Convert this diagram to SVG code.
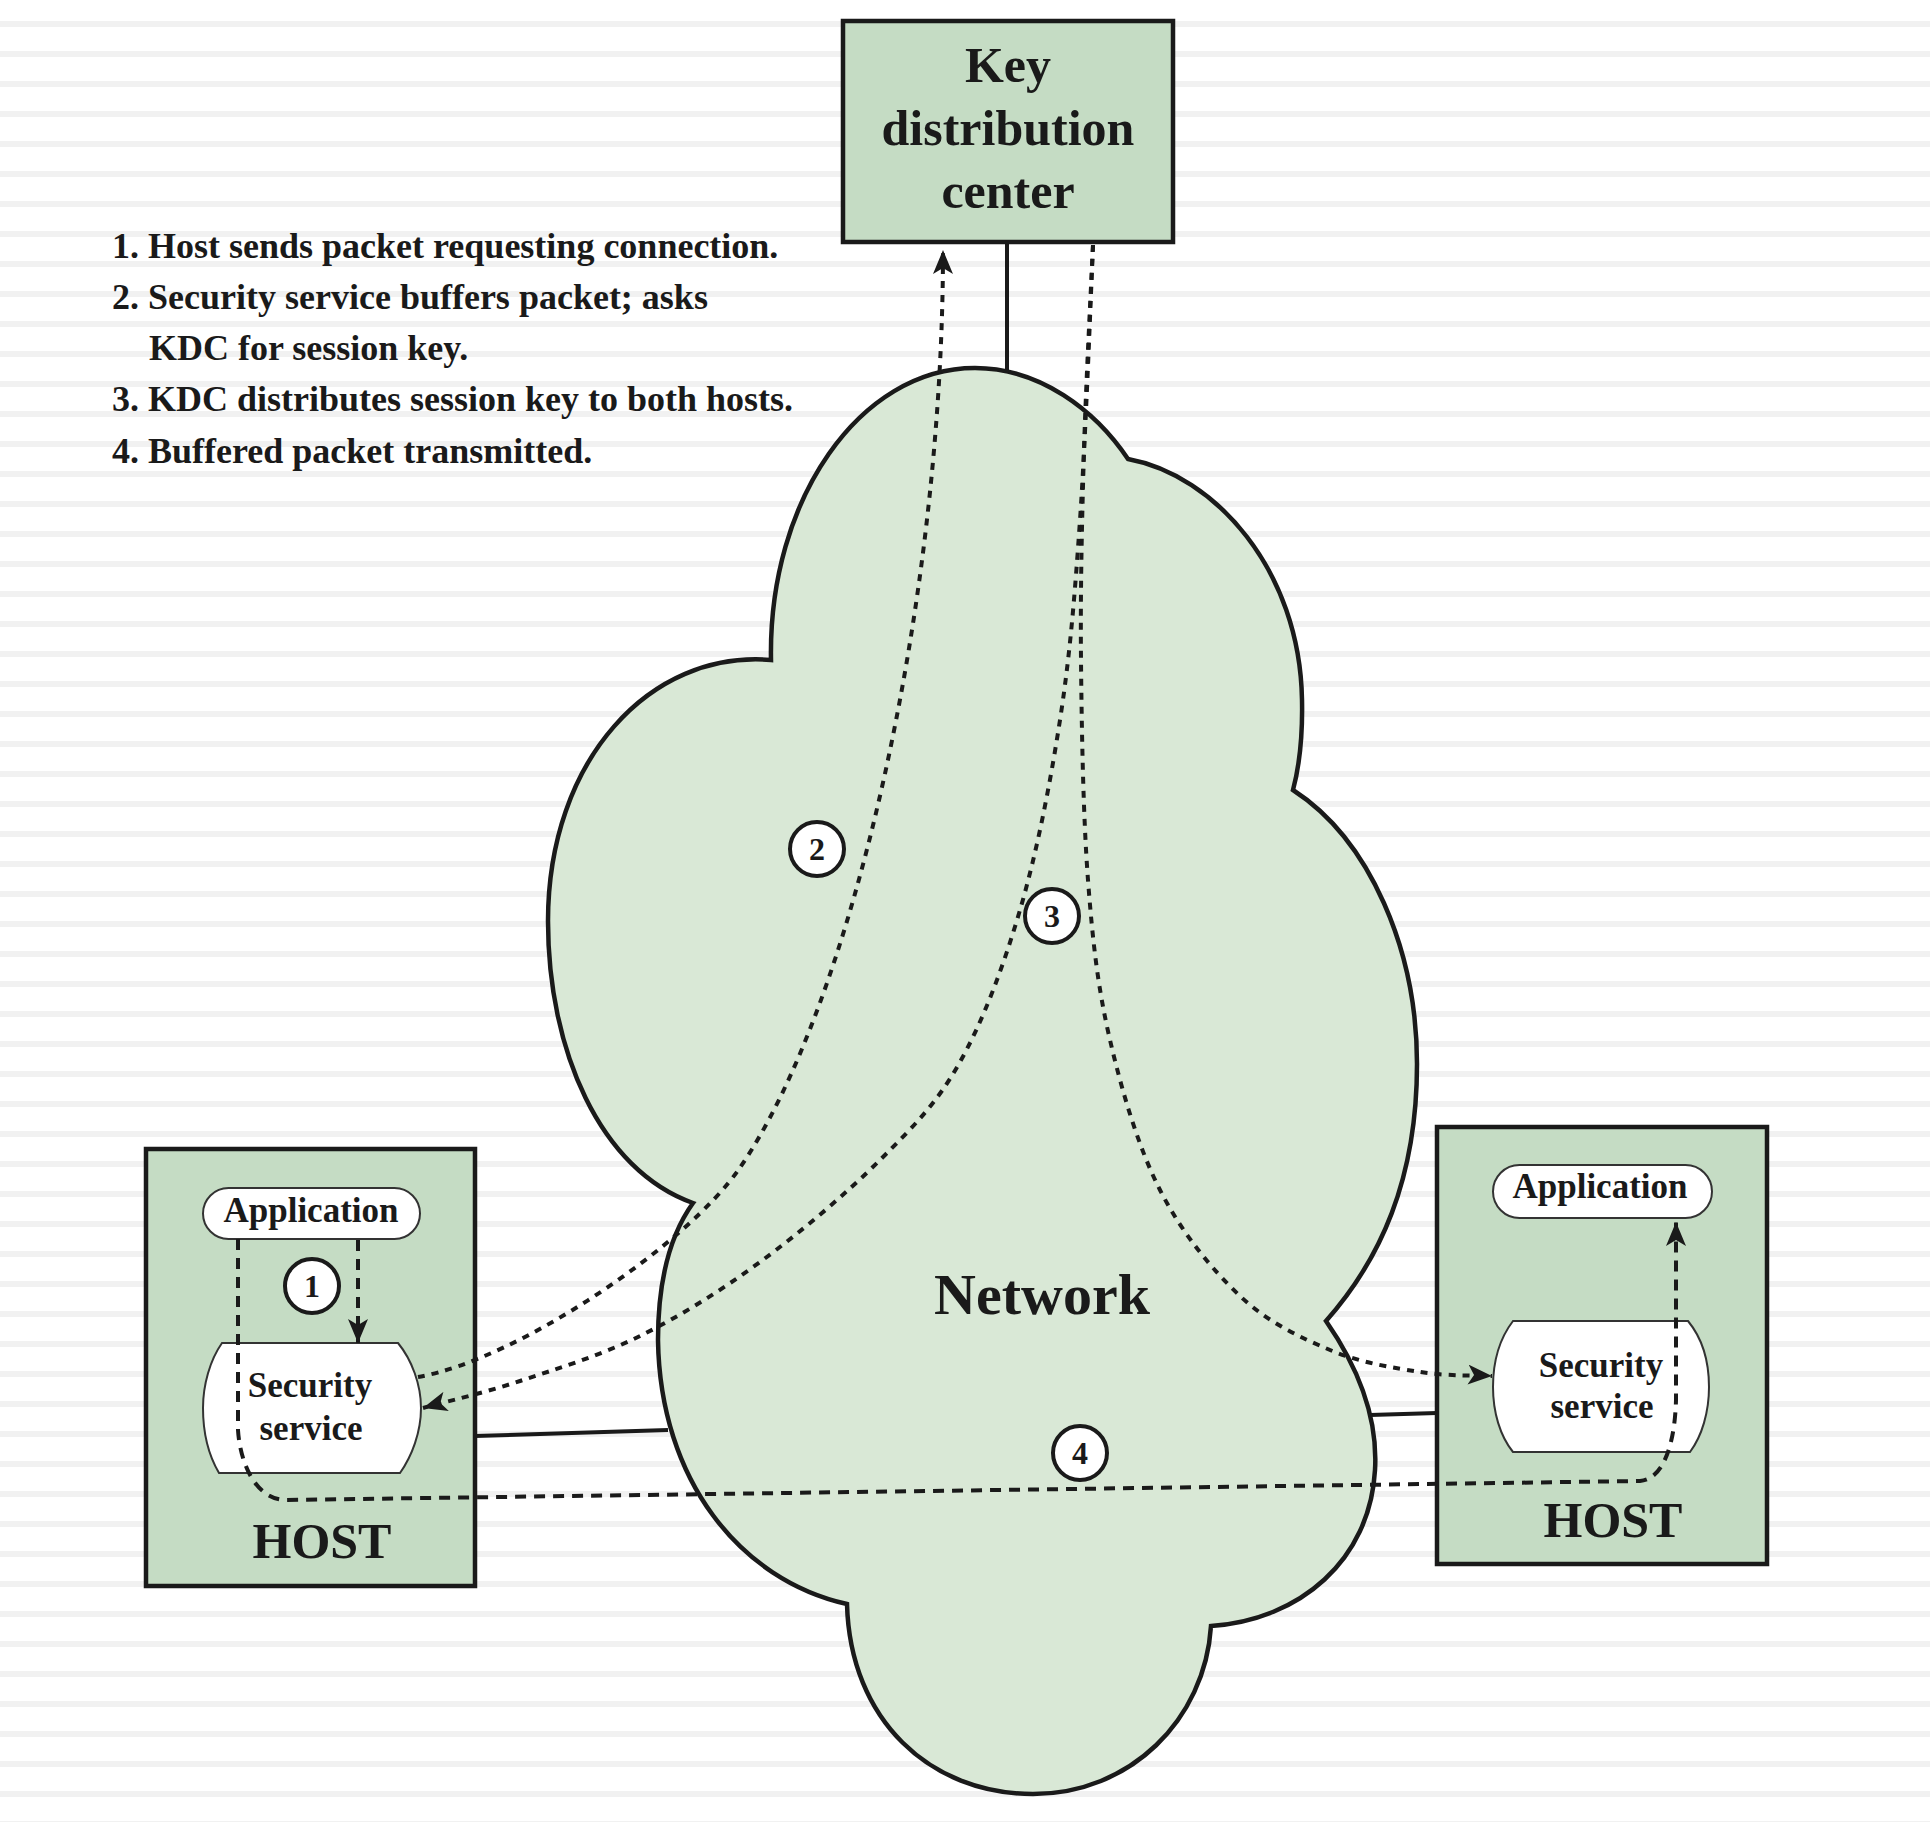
<svg xmlns="http://www.w3.org/2000/svg" width="1930" height="1822" viewBox="0 0 1930 1822">
<defs>
<pattern id="stripes" x="0" y="0" width="40" height="30" patternUnits="userSpaceOnUse">
<rect x="0" y="21" width="40" height="6" fill="#f1f1f1"/>
</pattern>
<marker id="arr" viewBox="0 0 24 20" refX="24" refY="10" markerWidth="24" markerHeight="20" markerUnits="userSpaceOnUse" orient="auto">
<path d="M0,0 L24,10 L0,20 L6,10 Z" fill="#1a1a1a"/>
</marker>
<style>
.box{fill:#c5dcc4;stroke:#1a1a1a;stroke-width:4.5}
.cloud{fill:#d9e8d6;stroke:#1a1a1a;stroke-width:4.5}
.inner{fill:#ffffff;stroke:#333333;stroke-width:2}
.solid{fill:none;stroke:#1a1a1a;stroke-width:4}
.dot{fill:none;stroke:#1a1a1a;stroke-width:4;stroke-dasharray:7 7}
.dash{fill:none;stroke:#1a1a1a;stroke-width:4;stroke-dasharray:11 8}
.num{fill:#ffffff;stroke:#1a1a1a;stroke-width:4}
text{font-family:"Liberation Serif","Times New Roman",serif;font-weight:bold;fill:#1a1a1a}
.big{font-size:50px;text-anchor:middle}
.lbl{font-size:35px;text-anchor:middle}
.note{font-size:36px}
.n{font-size:32px;text-anchor:middle}
</style>
</defs>
<rect x="0" y="0" width="1930" height="1822" fill="#ffffff"/>
<rect x="0" y="0" width="1930" height="1822" fill="url(#stripes)"/>

<g id="notes">
<text class="note" x="112" y="258">1. Host sends packet requesting connection.</text>
<text class="note" x="112" y="309">2. Security service buffers packet; asks</text>
<text class="note" x="149" y="360">KDC for session key.</text>
<text class="note" x="112" y="411">3. KDC distributes session key to both hosts.</text>
<text class="note" x="112" y="463">4. Buffered packet transmitted.</text>
</g>

<g id="links">
<line class="solid" x1="1007" y1="242" x2="1007" y2="372"/>
<line class="solid" x1="475" y1="1436" x2="668" y2="1430"/>
<line class="solid" x1="1370" y1="1415" x2="1437" y2="1413"/>
</g>

<g id="network">
<path class="cloud" d="M771,660 C768,500 860,368 975,368 C1040,368 1095,410 1128,459 C1215,475 1300,570 1302,700 C1303,750 1297,775 1293,790 C1370,840 1417,950 1417,1064 C1417,1180 1380,1260 1326,1321 C1360,1370 1378,1420 1375,1470 C1370,1560 1300,1620 1211,1626 C1205,1720 1130,1794 1033,1794 C930,1794 850,1720 847,1604 C740,1580 660,1480 658,1340 C658,1280 670,1235 693,1203 C600,1170 548,1050 548,921 C548,760 650,650 771,660 Z"/>
<text x="1042" y="1314" style="font-size:58px;text-anchor:middle">Network</text>
</g>

<g id="kdc">
<rect class="box" x="843" y="21" width="330" height="221"/>
<text class="big" x="1008" y="82">Key</text>
<text class="big" x="1008" y="145">distribution</text>
<text class="big" x="1008" y="208">center</text>
</g>

<g id="host-left">
<rect class="box" x="146" y="1149" width="329" height="437"/>
<text class="big" x="322" y="1558">HOST</text>
</g>
<g id="app-left">
<rect class="inner" x="203" y="1188" width="217" height="51" rx="25.5"/>
<text class="lbl" x="311" y="1222">Application</text>
</g>
<g id="sec-left">
<path class="inner" d="M222,1343 L398,1343 C412,1360 421,1385 421,1408 C421,1432 412,1456 400,1473 L219,1473 C209,1456 203,1432 203,1408 C203,1385 210,1360 222,1343 Z"/>
<text class="lbl" x="310" y="1397">Security</text>
<text class="lbl" x="311" y="1440">service</text>
</g>

<g id="host-right">
<rect class="box" x="1437" y="1127" width="330" height="437"/>
<text class="big" x="1613" y="1537">HOST</text>
</g>
<g id="app-right">
<rect class="inner" x="1493" y="1165" width="219" height="53" rx="26.5"/>
<text class="lbl" x="1600" y="1198">Application</text>
</g>
<g id="sec-right">
<path class="inner" d="M1513,1321 L1688,1321 C1702,1338 1709,1362 1709,1387 C1709,1412 1702,1436 1690,1452 L1513,1452 C1500,1436 1493,1412 1493,1387 C1493,1362 1500,1338 1513,1321 Z"/>
<text class="lbl" x="1601" y="1377">Security</text>
<text class="lbl" x="1602" y="1418">service</text>
</g>

<g id="connectors">
<path class="dash" d="M358,1240 L358,1343" marker-end="url(#arr)"/>
<path class="dot" d="M418,1377 C520,1359 688,1243 739,1169 C853,1005 943,600 943,250" marker-end="url(#arr)"/>
<path class="dot" d="M1093,245 C1091,291 1085.5,441 1080,520 C1074.5,599 1070,655 1060,720 C1050,785 1036.7,853 1020,910 C1003.3,967 983.3,1020.3 960,1062 C936.7,1103.7 913.3,1126.7 880,1160 C846.7,1193.3 800,1232.7 760,1262 C720,1291.3 680,1316.2 640,1336 C600,1355.8 555,1369.3 520,1381 C485,1392.7 445,1401.8 423,1408" marker-end="url(#arr)"/>
<path class="dot" d="M1093,245 C1091.5,279.2 1086,380.8 1084,450 C1082,519.2 1080.3,588.3 1081,660 C1081.7,731.7 1083.2,816.7 1088,880 C1092.8,943.3 1098,988.3 1110,1040 C1122,1091.7 1138.3,1147.3 1160,1190 C1181.7,1232.7 1211.7,1269.3 1240,1296 C1268.3,1322.7 1300,1337.3 1330,1350 C1360,1362.7 1393,1367.7 1420,1372 C1447,1376.3 1480,1375.3 1492,1376" marker-end="url(#arr)"/>
<path class="dash" d="M238,1239 L238,1430 C240,1462 255,1499 285,1500 L1640,1481 C1665,1479 1675,1440 1676,1400 L1676,1222" marker-end="url(#arr)"/>
</g>

<g id="step1"><circle class="num" cx="312" cy="1286" r="27"/><text class="n" x="312" y="1297">1</text></g>
<g id="step2"><circle class="num" cx="817" cy="849" r="27"/><text class="n" x="817" y="860">2</text></g>
<g id="step3"><circle class="num" cx="1052" cy="916" r="27"/><text class="n" x="1052" y="927">3</text></g>
<g id="step4"><circle class="num" cx="1080" cy="1453" r="27"/><text class="n" x="1080" y="1464">4</text></g>
</svg>
